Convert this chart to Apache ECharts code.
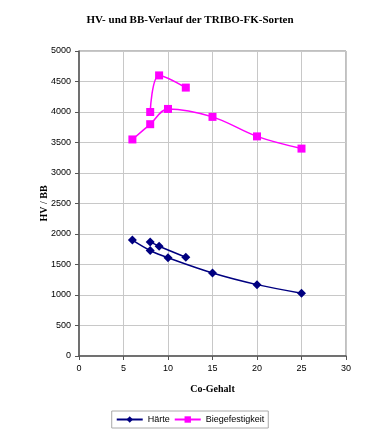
<!DOCTYPE html>
<html><head><meta charset="utf-8">
<script src="https://cdn.jsdelivr.net/npm/echarts@6/dist/echarts.min.js"></script>
<style>html,body{margin:0;padding:0;background:#fff}#c{width:380px;height:438px}</style>
</head><body><div id="c"></div>
<script>
const title = 'HV- und BB-Verlauf der TRIBO-FK-Sorten';
const xName = 'Co-Gehalt';
const yName = 'HV / BB';
const seriesNames = ['Härte', 'Biegefestigkeit'];
const haerteA_x = [6, 8, 10, 15, 20, 25];
const haerteA_y = [1900, 1730, 1610, 1360, 1170, 1030];
const haerteB_x = [8, 9, 12];
const haerteB_y = [1870, 1800, 1620];
const biegeA_x = [6, 8, 10, 15, 20, 25];
const biegeA_y = [3550, 3800, 4050, 3920, 3600, 3400];
const biegeB_x = [8, 9, 12];
const biegeB_y = [4000, 4600, 4400];

const pair = (xs, ys) => xs.map((x, i) => [x, ys[i]]);
const NAVY = '#000080', MAG = '#FF00FF';
function mk(name, xs, ys, color, symbol, size) {
  return { name, type: 'line', data: pair(xs, ys), smooth: 0.35, symbol, symbolSize: size,
    lineStyle: { color, width: 1.5 }, itemStyle: { color }, z: name === seriesNames[1] ? 3 : 2 };
}
const chart = echarts.init(document.getElementById('c'), null, { renderer: 'canvas' });
chart.setOption({
  animation: false,
  backgroundColor: '#fff',
  title: { text: title, left: 'center', top: 10,
    textStyle: { fontFamily: 'Liberation Serif', fontWeight: 'bold', fontSize: 11, color: '#000' } },
  grid: { left: 79, right: 34, top: 51, bottom: 82, show: true, borderColor: '#808080', borderWidth: 1 },
  xAxis: { type: 'value', min: 0, max: 30, interval: 5,
    name: xName, nameLocation: 'middle', nameGap: 28,
    nameTextStyle: { fontFamily: 'Liberation Serif', fontWeight: 'bold', fontSize: 10, color: '#000' },
    axisLine: { lineStyle: { color: '#555', width: 1.5 } },
    axisTick: { show: true, length: 4, lineStyle: { color: '#555' } },
    axisLabel: { fontFamily: 'Liberation Sans', fontSize: 9, color: '#000', margin: 8, formatter: v => String(v) },
    splitLine: { show: true, lineStyle: { color: '#c8c8c8' } } },
  yAxis: { type: 'value', min: 0, max: 5000, interval: 500,
    name: yName, nameLocation: 'middle', nameGap: 30, nameMoveOverlap: false,
    nameTextStyle: { fontFamily: 'Liberation Serif', fontWeight: 'bold', fontSize: 10, color: '#000' },
    axisLine: { show: true, lineStyle: { color: '#555', width: 1.5 } },
    axisTick: { show: true, length: 4, lineStyle: { color: '#555' } },
    axisLabel: { fontFamily: 'Liberation Sans', fontSize: 9, color: '#000', margin: 8, formatter: v => String(v) },
    splitLine: { show: true, lineStyle: { color: '#c8c8c8' } } },
  legend: { data: seriesNames, bottom: 10, left: 'center', itemGap: 4, itemWidth: 26, itemHeight: 8,
    borderColor: '#aaa', borderWidth: 1, padding: [4, 4], borderRadius: 0,
    textStyle: { fontFamily: 'Liberation Sans', fontSize: 9, color: '#000' } },
  series: [
    mk(seriesNames[0], haerteA_x, haerteA_y, NAVY, 'diamond', 9),
    mk(seriesNames[0], haerteB_x, haerteB_y, NAVY, 'diamond', 9),
    mk(seriesNames[1], biegeA_x, biegeA_y, MAG, 'rect', 8),
    mk(seriesNames[1], biegeB_x, biegeB_y, MAG, 'rect', 8)
  ]
});
</script></body></html>
